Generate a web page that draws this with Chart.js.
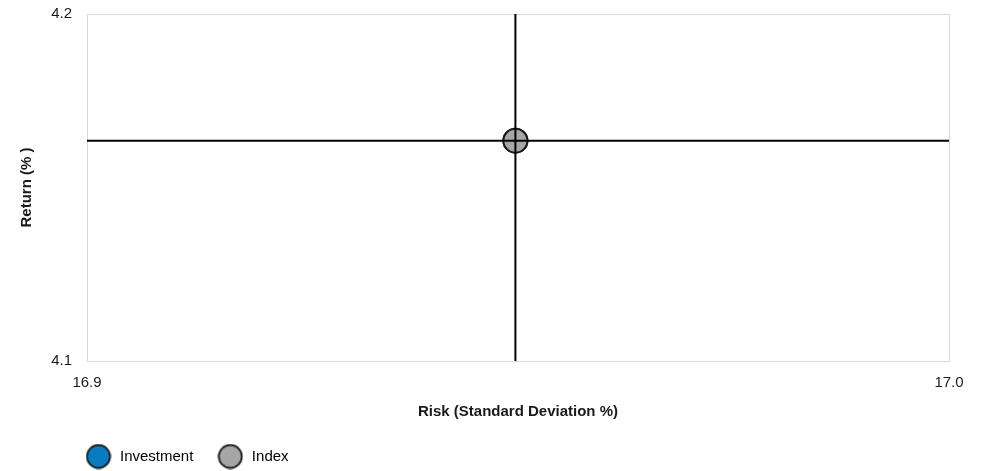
<!DOCTYPE html>
<html>
<head>
<meta charset="utf-8">
<script src="https://cdn.jsdelivr.net/npm/chart.js@4.4.1/dist/chart.umd.min.js"></script>
<style>
  html, body { margin: 0; padding: 0; background: #fff; }
  #wrap { width: 989px; height: 471px; }
</style>
</head>
<body>
<div id="wrap"><canvas id="myChart" width="989" height="471"></canvas></div>
<script>
// data
let seriesNames = ["Investment", "Index"];
let investmentPoint = [{ x: 16.9497, y: 4.1635 }];
let indexPoint = [{ x: 16.9497, y: 4.1635 }];
let meanRisk = 16.9497;
let meanReturn = 4.1635;
let xTicks = [16.9, 17.0];
let yTicks = [4.1, 4.2];

let seriesColors = { Investment: "#0a7bc1", Index: "#a6a6a6" };
let fontFamily = "'Liberation Sans', Arial, sans-serif";

// round marker images for the legend
function marker(color) {
  let c = document.createElement("canvas");
  c.width = 26;
  c.height = 26;
  let g = c.getContext("2d");
  g.beginPath();
  g.arc(13, 13, 11.5, 0, Math.PI * 2);
  g.fillStyle = color;
  g.fill();
  g.lineWidth = 1.8;
  g.strokeStyle = "#1a1a1a";
  g.stroke();
  return c;
}

// keep legend height fixed and put it under the plot
let legendPlace = {
  id: "legendPlace",
  beforeLayout(chart) {
    let lg = chart.legend;
    if (lg && !lg._fixed) {
      let fit = lg.fit.bind(lg);
      lg.fit = function () { fit(); this.height = 50; };
      lg._fixed = true;
    }
  },
  afterLayout(chart) {
    chart.legend.left = 61.5;
    chart.legend.top = 426;
  }
};

let canvas = document.getElementById("myChart");
let ctx = canvas.getContext("2d");
let chart = new Chart(ctx, {
  type: "scatter",
  data: {
    datasets: [
      {
        label: "meanRisk",
        data: [{ x: meanRisk, y: yTicks[0] }, { x: meanRisk, y: yTicks[1] }],
        showLine: true,
        borderColor: "#000",
        borderWidth: 2,
        pointRadius: 0,
      },
      {
        label: "meanReturn",
        data: [{ x: xTicks[0], y: meanReturn }, { x: xTicks[1], y: meanReturn }],
        showLine: true,
        borderColor: "#000",
        borderWidth: 2,
        pointRadius: 0,
      },
      {
        label: seriesNames[1],
        data: indexPoint,
        backgroundColor: seriesColors.Index,
        borderColor: "#1a1a1a",
        borderWidth: 2,
        pointRadius: 12,
      },
      {
        label: seriesNames[0],
        data: investmentPoint,
        backgroundColor: seriesColors.Investment,
        borderColor: "#1a1a1a",
        borderWidth: 2,
        pointRadius: 12,
      },
    ],
  },
  options: {
    responsive: false,
    animation: false,
    layout: { padding: { top: 14, right: 40, bottom: 0, left: 0 } },
    plugins: {
      tooltip: { enabled: false },
      legend: {
        position: "bottom",
        align: "start",
        labels: {
          usePointStyle: true,
          pointStyleWidth: 28,
          padding: 23,
          color: "#1a1a1a",
          font: { family: fontFamily, size: 15 },
          generateLabels: () => seriesNames.map((name) => ({
            text: name,
            pointStyle: marker(seriesColors[name]),
            fillStyle: seriesColors[name],
            strokeStyle: "#1a1a1a",
            lineWidth: 0,
            hidden: false,
          })),
        },
      },
    },
    scales: {
      x: {
        type: "linear",
        min: xTicks[0],
        max: xTicks[1],
        afterBuildTicks: (s) => { s.ticks = xTicks.map((v) => ({ value: v })); },
        afterFit: (s) => { s.height = 60; },
        grid: { color: "#d9d9d9", drawTicks: false },
        border: { color: "#d9d9d9" },
        ticks: {
          padding: 13,
          color: "#1a1a1a",
          font: { family: fontFamily, size: 15 },
          callback: (v) => Number(v).toFixed(1),
        },
        title: {
          display: true,
          text: "Risk (Standard Deviation %)",
          color: "#1a1a1a",
          padding: { top: 0, bottom: 0 },
          font: { family: fontFamily, size: 15, weight: "bold" },
        },
      },
      y: {
        type: "linear",
        min: yTicks[0],
        max: yTicks[1],
        afterBuildTicks: (s) => { s.ticks = yTicks.map((v) => ({ value: v })); },
        afterFit: (s) => { s.width = 87; s.paddingTop = 0; s.paddingBottom = 0; },
        grid: { color: "#d9d9d9", drawTicks: false },
        border: { color: "#d9d9d9" },
        ticks: {
          padding: 15,
          color: "#1a1a1a",
          font: { family: fontFamily, size: 15 },
          callback: (v) => Number(v).toFixed(1),
        },
        title: {
          display: true,
          text: "Return (% )",
          color: "#1a1a1a",
          padding: { top: 18, bottom: 0 },
          font: { family: fontFamily, size: 15, weight: "bold" },
        },
      },
    },
  },
  plugins: [legendPlace],
});
</script>
</body>
</html>
